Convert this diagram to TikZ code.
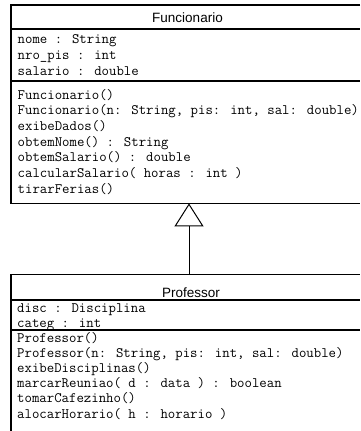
\documentclass[tikz,border=0pt]{standalone}
\usepackage{fontspec}
\setmainfont{Liberation Sans}
\usetikzlibrary{arrows.meta}

\begin{document}
\begin{tikzpicture}[x=1pt,y=-1pt,
  classbox/.style={rectangle,inner sep=0pt,anchor=north west},
  boxline/.style={line width=1.5pt},
  classname/.style={font=\fontsize{13.5}{16}\selectfont,anchor=base,inner sep=0pt},
  member/.style={font=\fontsize{14.4}{15}\selectfont\ttfamily\addfontfeatures{FakeBold=0.5},
    anchor=base west,inner sep=0pt},
  inherit/.style={line width=1pt,-{Triangle[open,length=23pt,width=29pt]}}]
\path[use as bounding box] (0,0) rectangle (360,431);

% Superclass (its right edge lies past the page)
\node[classbox,minimum width=353pt,minimum height=198pt] (func) at (11,5) {};
\draw[boxline] (360,5) -| (11,203.5) -- (360,203.5);
\draw[boxline] (11,29) -- (360,29);
\draw[boxline] (11,81) -- (360,81);
\node[classname] (fname) at (187.5,22.5) {Funcionario};
\node[member] (fa1) at (17.5,43.5) {nome : String};
\node[member] (fa2) at (17.5,59.3) {nro\_pis : int};
\node[member] (fa3) at (17.5,75) {salario : double};
\node[member] (fm1) at (17.5,99) {Funcionario()};
\node[member] (fm2) at (17.5,114.7) {Funcionario(n: String, pis: int, sal: double)};
\node[member] (fm3) at (17.5,130.3) {exibeDados()};
\node[member] (fm4) at (17.5,146) {obtemNome() : String};
\node[member] (fm5) at (17.5,161.7) {obtemSalario() : double};
\node[member] (fm6) at (17.5,177.3) {calcularSalario( horas : int )};
\node[member] (fm7) at (17.5,193) {tirarFerias()};

% Subclass (its right and lower parts lie past the page)
\node[classbox,minimum width=360pt,minimum height=25.5pt] (prof) at (11,274.5) {};
\draw[boxline] (11,431) |- (360,274.5);
\draw[boxline] (11,300) -- (360,300);
\draw[boxline] (11,330) -- (360,330);
\node[classname] (pname) at (191,297) {Professor};
\node[member] (pa1) at (17,312.3) {disc : Disciplina};
\node[member] (pa2) at (17,327.3) {categ : int};
\node[member] (pm1) at (17,342.3) {Professor()};
\node[member] (pm2) at (17,357.5) {Professor(n: String, pis: int, sal: double)};
\node[member] (pm3) at (17,372.6) {exibeDisciplinas()};
\node[member] (pm4) at (17,387.7) {marcarReuniao( d : data ) : boolean};
\node[member] (pm5) at (17,402.8) {tomarCafezinho()};
\node[member] (pm6) at (17,418) {alocarHorario( h : horario )};

% Generalization
\coordinate (stem) at (189,0);
\draw[inherit] (prof.north -| stem) -- (func.south -| stem);
\end{tikzpicture}
\end{document}
